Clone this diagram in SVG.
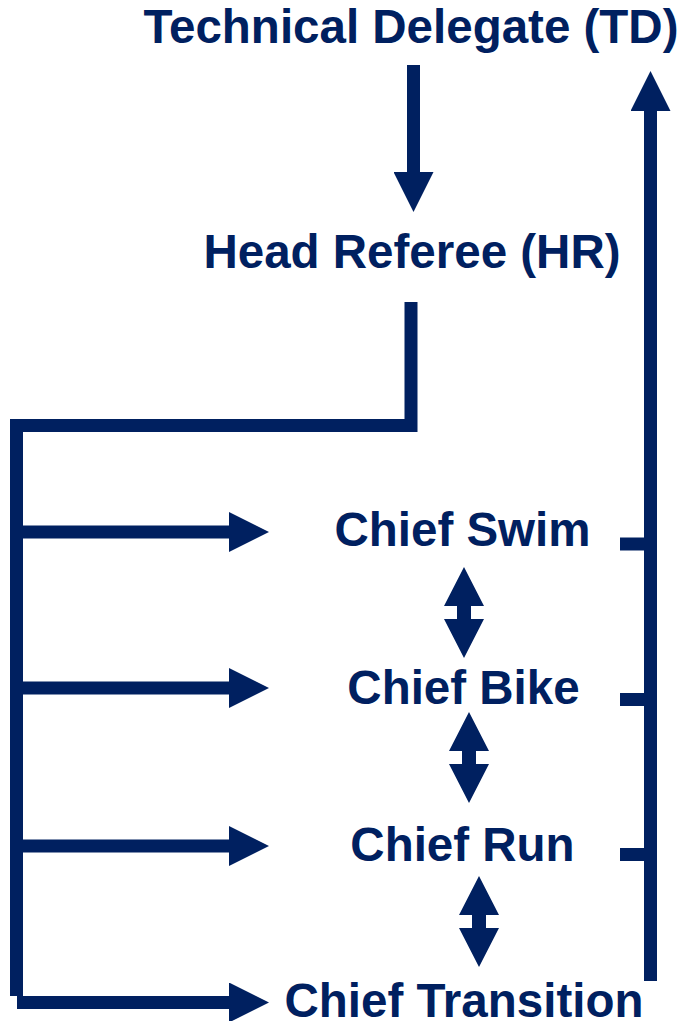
<svg xmlns="http://www.w3.org/2000/svg" xmlns:xlink="http://www.w3.org/1999/xlink" width="683" height="1021" viewBox="0 0 683 1021">
  <style>
    .lbl { font-family: "Liberation Sans", Arial, sans-serif; font-weight: bold; font-size: 47.5px; fill: #002060; text-anchor: middle; }
    .ln { fill: none; stroke: #002060; stroke-width: 13; stroke-linejoin: miter; stroke-linecap: butt; }
    .solid { fill: #002060; stroke: none; }
  </style>
  <defs>
    <marker id="ah" viewBox="0 0 40 40" refX="0" refY="20" markerWidth="40" markerHeight="40" markerUnits="userSpaceOnUse" orient="auto">
      <path d="M0,0 L40,20 L0,40 Z" fill="#002060"/>
    </marker>
    <path id="dbl" d="M0,0 L20,39 L7,39 L7,52 L20,52 L0,91 L-20,52 L-7,52 L-7,39 L-20,39 Z"/>
  </defs>
  <rect width="683" height="1021" fill="#ffffff"/>

  <g id="connectors">
    <!-- TD to HR -->
    <line class="ln" x1="413.5" y1="65" x2="413.5" y2="172" marker-end="url(#ah)"/>
    <!-- HR to chiefs bus -->
    <path class="ln" d="M411,302 V425.5 H16.5 V996"/>
    <line class="ln" x1="16.5" y1="532" x2="229" y2="532" marker-end="url(#ah)"/>
    <line class="ln" x1="16.5" y1="688" x2="229" y2="688" marker-end="url(#ah)"/>
    <line class="ln" x1="16.5" y1="846" x2="229" y2="846" marker-end="url(#ah)"/>
    <line class="ln" x1="17" y1="1002.5" x2="229" y2="1002.5" marker-end="url(#ah)"/>
    <!-- Chiefs to TD bus -->
    <line class="ln" x1="650.5" y1="981" x2="650.5" y2="111" marker-end="url(#ah)"/>
    <line class="ln" x1="620" y1="544" x2="650" y2="544"/>
    <line class="ln" x1="620" y1="699.5" x2="650" y2="699.5"/>
    <line class="ln" x1="620" y1="854.5" x2="650" y2="854.5"/>
    <!-- double arrows between chiefs -->
    <use xlink:href="#dbl" href="#dbl" class="solid" transform="translate(464,567)"/>
    <use xlink:href="#dbl" href="#dbl" class="solid" transform="translate(469,712)"/>
    <use xlink:href="#dbl" href="#dbl" class="solid" transform="translate(479,876)"/>
  </g>

  <g id="node-td"><text class="lbl" x="411" y="43">Technical Delegate (TD)</text></g>
  <g id="node-hr"><text class="lbl" x="412" y="268">Head Referee (HR)</text></g>
  <g id="node-swim"><text class="lbl" x="462.5" y="546">Chief Swim</text></g>
  <g id="node-bike"><text class="lbl" x="463.5" y="704">Chief Bike</text></g>
  <g id="node-run"><text class="lbl" x="462.5" y="861">Chief Run</text></g>
  <g id="node-transition"><text class="lbl" x="464" y="1017">Chief Transition</text></g>
</svg>
